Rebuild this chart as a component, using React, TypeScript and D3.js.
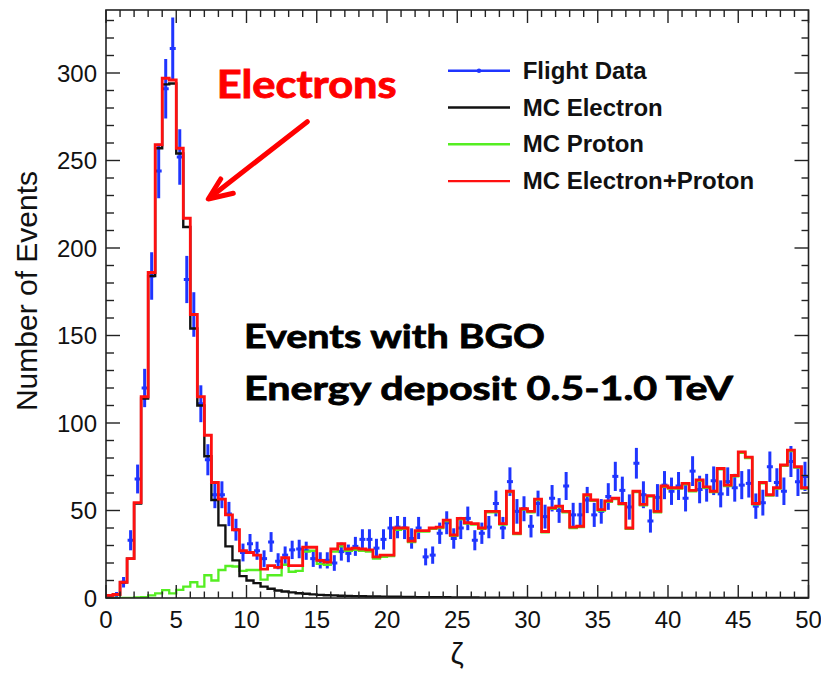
import React from 'react';
import * as d3 from 'd3';

// ---------- data (zeta histogram, 100 bins of width 0.5 from 0 to 50) ----------
const zetaMin = 0;
const zetaMax = 50;
const binWidth = 0.5;

const flightData = [
  1, 2, 9, 33, 68, 120, 184, 244, 291, 314,
  252, 182, 162, 111, 79, 59, 59, 48, 39, 26,
  31, 27, 22.5, 32, 21, 24.5, 27.5, 28, 27, 22.5,
  21.5, 21.5, 20, 26.5, 25.5, 29.5, 33.5, 33.5, 28.5, 33.5,
  40, 40.5, 40, 34, 40, 23.5, 24.5, 37, 43, 34,
  40, 45.5, 33, 37, 40.5, 54, 40, 66.5, 49.5, 51,
  41, 54, 46.5, 57, 50, 64, 47.5, 47.5, 56, 47.5,
  49.5, 58, 69.5, 61.5, 52, 77, 59, 44, 57.5, 64.5,
  61, 64, 57, 72.5, 62, 63, 67, 59.5, 66.5, 63,
  64.5, 65.5, 52.5, 54.5, 75, 66, 61, 78, 66.5, 69.5,
];

const mcElectron = [
  1.5, 2, 9, 22.5, 54, 114, 184, 257, 293.5, 294,
  254, 212, 154, 110, 81, 56, 41.5, 29.5, 21.5, 12.5,
  10, 8.5, 6.5, 5.3, 4.3, 3.7, 3.2, 2.7, 2.4, 2.1,
  1.8, 1.6, 1.5, 1.3, 1.2, 1.1, 1.0, 0.9, 0.9, 0.8,
  0.7, 0.7, 0.6, 0.6, 0.5, 0.5, 0.4, 0.4, 0.4, 0.3,
  0.3, 0.3, 0.3, 0.2, 0.2, 0.2, 0.2, 0.2, 0.2, 0.2,
  0.1, 0.1, 0.1, 0.1, 0.1, 0.1, 0.1, 0.1, 0.1, 0.1,
  0.1, 0.1, 0.1, 0.1, 0.1, 0.1, 0.1, 0.1, 0.1, 0.1,
  0.1, 0.1, 0.1, 0.1, 0.1, 0.1, 0.1, 0.1, 0.1, 0.1,
  0.1, 0.1, 0.1, 0.1, 0.1, 0.1, 0.1, 0.1, 0.1, 0.1,
];

const mcProton = [
  0, 0, 0, 0, 0.3, 0.5, 1.5, 2.7, 4.5, 2.7,
  4.6, 6.5, 9, 6.5, 13, 10, 16, 18.3, 18, 15.5,
  16, 16, 10.5, 13, 13, 19, 15, 15.5, 26.5, 27,
  19.5, 19, 26.5, 29.5, 27, 27.5, 27, 26.5, 22.5, 23.5,
  24, 39, 39.5, 32, 38, 38, 39.5, 40, 44, 35.5,
  45, 42.5, 42, 39.5, 49, 49, 42, 60.5, 36.5, 50.5,
  49, 56, 37.5, 51, 52, 49, 40, 40.5, 58.5, 55.5,
  50, 55, 56.5, 53.5, 39.5, 60.5, 53, 58, 49, 63.5,
  62.5, 62.5, 65, 61, 67, 63, 60.5, 73.5, 64, 69.5,
  83, 80, 53.5, 65.5, 58.5, 62.5, 75.5, 84, 74.5, 62.5,
];

const mcSum = [
  1.5, 2, 9, 22.5, 54.5, 115, 186, 259, 297, 296,
  257, 217, 162, 115, 93, 66, 56.5, 47.5, 39, 27,
  26, 24.5, 16.5, 18.5, 17.5, 23, 18.5, 18.5, 29, 29,
  21.5, 20.5, 28, 31, 28, 28.5, 28, 27.5, 23.5, 24.5,
  24.5, 40, 40, 32.5, 38.5, 38.5, 40, 40.5, 44.5, 36,
  45.5, 43, 42.5, 40, 49.5, 49.5, 42.5, 61, 37, 51,
  49.5, 56.5, 38, 51.5, 52.5, 49.5, 40.5, 41, 59, 56,
  50.5, 55.5, 57, 54, 40, 61, 53.5, 58.5, 49.5, 64,
  63, 63, 65.5, 61.5, 67.5, 63.5, 61, 74, 64.5, 70,
  83.5, 80.5, 54, 66, 59, 63, 76, 84.5, 75, 63,
];

const xTickLabels = [0, 5, 10, 15, 20, 25, 30, 35, 40, 45, 50];
const yTickLabels = [0, 50, 100, 150, 200, 250, 300];
const legendLabels = ['Flight Data', 'MC Electron', 'MC Proton', 'MC Electron+Proton'];
const legendColors = ['#1f35ff', '#111111', '#55ee22', '#ff1010'];

const annotationTitle = 'Electrons';
const annotationLines = ['Events with BGO', 'Energy deposit 0.5-1.0 TeV'];

// ---------- component ----------
export default function App() {
  const W = 821;
  const H = 674;
  const left = 106, right = 808.5, top = 10, bottom = 598;
  const yMax = 336;

  const x = d3.scaleLinear().domain([zetaMin, zetaMax]).range([left, right]);
  const y = d3.scaleLinear().domain([0, yMax]).range([bottom, top]);

  const stepPath = (vals: number[]) => {
    const pts: [number, number][] = vals.map((v, i) => [x(zetaMin + i * binWidth), y(v)]);
    pts.push([x(zetaMin + vals.length * binWidth), y(vals[vals.length - 1])]);
    return d3.line().curve(d3.curveStepAfter)(pts) as string;
  };

  const axisFont = "'Liberation Sans', Arial, Helvetica, sans-serif";
  const calFont = "Lato, 'Open Sans', sans-serif";
  const tickColor = '#222';

  const xMinor = d3.range(0, 51, 1).filter((v) => v % 5 !== 0);
  const yMinor = d3.range(0, yMax, 10).filter((v) => v % 50 !== 0);

  return (
    <svg
      width={W}
      height={H}
      viewBox={`0 0 ${W} ${H}`}
      style={{ position: 'absolute', left: 0, top: 0, background: '#fff' }}
    >
      <rect x={0} y={0} width={W} height={H} fill="#fff" />
      <defs>
        <clipPath id="plotClip">
          <rect x={left} y={top} width={right - left} height={bottom - top} />
        </clipPath>
      </defs>

      {/* data points with error bars */}
      <g clipPath="url(#plotClip)" stroke={legendColors[0]} strokeWidth={3}>
        {flightData.map((v, i) => {
          if (v <= 0) return null;
          const cx = x(zetaMin + (i + 0.5) * binWidth);
          const e = Math.sqrt(v);
          return (
            <g key={i}>
              <line x1={cx} x2={cx} y1={y(v - e)} y2={y(v + e)} />
              <line x1={cx - 3} x2={cx + 3} y1={y(v)} y2={y(v)} />
            </g>
          );
        })}
      </g>

      {/* MC histograms */}
      <g clipPath="url(#plotClip)" fill="none">
        <path d={stepPath(mcProton)} stroke={legendColors[2]} strokeWidth={2.3} />
        <path d={stepPath(mcElectron)} stroke={legendColors[1]} strokeWidth={2.4} />
        <path d={stepPath(mcSum)} stroke={legendColors[3]} strokeWidth={2.8} />
      </g>

      {/* frame */}
      <rect x={left} y={top} width={right - left} height={bottom - top} fill="none" stroke={tickColor} strokeWidth={1.6} />

      {/* ticks on all four sides */}
      <g stroke={tickColor} strokeWidth={1.4}>
        {xTickLabels.map((v) => (
          <g key={'xm' + v}>
            <line x1={x(v)} x2={x(v)} y1={bottom} y2={bottom - 13} />
            <line x1={x(v)} x2={x(v)} y1={top} y2={top + 13} />
          </g>
        ))}
        {xMinor.map((v) => (
          <g key={'xn' + v}>
            <line x1={x(v)} x2={x(v)} y1={bottom} y2={bottom - 6.5} />
            <line x1={x(v)} x2={x(v)} y1={top} y2={top + 7} />
          </g>
        ))}
        {yTickLabels.map((v) => (
          <g key={'ym' + v}>
            <line x1={left} x2={left + 14} y1={y(v)} y2={y(v)} />
            <line x1={right} x2={right - 14} y1={y(v)} y2={y(v)} />
          </g>
        ))}
        {yMinor.map((v) => (
          <g key={'yn' + v}>
            <line x1={left} x2={left + 8} y1={y(v)} y2={y(v)} />
            <line x1={right} x2={right - 7} y1={y(v)} y2={y(v)} />
          </g>
        ))}
      </g>

      {/* tick labels */}
      <g fontFamily={axisFont} fontSize={24} fill="#111">
        {xTickLabels.map((v) => (
          <text key={'xl' + v} x={x(v)} y={628} textAnchor="middle">
            {v}
          </text>
        ))}
        {yTickLabels.map((v) => (
          <text key={'yl' + v} x={97} y={y(v) + 8.6} textAnchor="end">
            {v}
          </text>
        ))}
      </g>

      {/* axis titles */}
      <text
        transform="translate(37,291) rotate(-90)"
        textAnchor="middle"
        fontFamily={axisFont}
        fontSize={30}
        fill="#111"
      >
        Number of Events
      </text>
      <text x={457} y={664} textAnchor="middle" fontFamily={axisFont} fontSize={30} fill="#111">
        ζ
      </text>

      {/* legend */}
      <g>
        {legendLabels.map((lab, i) => {
          const ly = 70.7 + i * 36.8;
          return (
            <g key={lab}>
              <line x1={448} x2={510} y1={ly} y2={ly} stroke={legendColors[i]} strokeWidth={2.4} />
              {i === 0 && <circle cx={479} cy={ly} r={2.2} fill={legendColors[0]} />}
              <text x={522.7} y={ly + 8} fontFamily={axisFont} fontWeight="bold" fontSize={24} fill="#111">
                {lab}
              </text>
            </g>
          );
        })}
      </g>

      {/* annotations */}
      <text
        x={216.7}
        y={98.3}
        fontFamily={calFont}
        fontWeight="bold"
        fontSize={39}
        fill="#ff0000"
        stroke="#ff0000"
        strokeWidth={0.9}
        textLength={180}
        lengthAdjust="spacingAndGlyphs"
      >
        {annotationTitle}
      </text>
      <g stroke="#ff0000" strokeWidth={5} strokeLinecap="round" strokeLinejoin="round" fill="none">
        <line x1={307.3} y1={121.7} x2={210} y2={197.5} />
        <polyline points="220.7,179 208.3,199 233.3,193.3" />
      </g>
      <text
        x={244}
        y={348.3}
        fontFamily={calFont}
        fontWeight="bold"
        fontSize={33}
        fill="#000"
        stroke="#000"
        strokeWidth={0.8}
        textLength={301}
        lengthAdjust="spacingAndGlyphs"
      >
        {annotationLines[0]}
      </text>
      <text
        x={244}
        y={400}
        fontFamily={calFont}
        fontWeight="bold"
        fontSize={33}
        fill="#000"
        stroke="#000"
        strokeWidth={0.8}
        textLength={489}
        lengthAdjust="spacingAndGlyphs"
      >
        {annotationLines[1]}
      </text>
    </svg>
  );
}
